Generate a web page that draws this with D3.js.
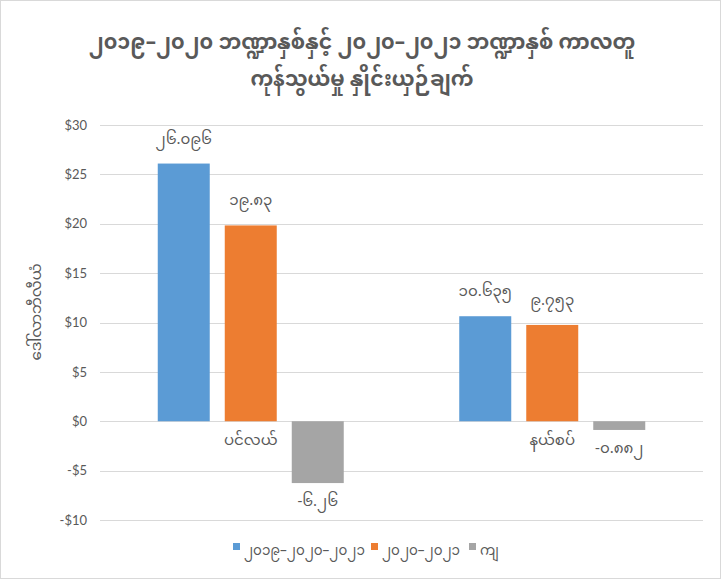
<!DOCTYPE html>
<html>
<head>
<meta charset="utf-8">
<script src="https://cdn.jsdelivr.net/npm/d3@7"></script>
<style>
  body { margin: 0; background: #fff; }
  text { font-family: "Noto Sans Myanmar", "Noto Sans", "DejaVu Sans", sans-serif; fill: #595959; }
</style>
</head>
<body>
<div id="chart"></div>
<script>
// chart values
const categories = ["ပင်လယ်", "နယ်စပ်"];
const seriesNames = ["၂၀၁၉–၂၀၂၀–၂၀၂၁", "၂၀၂၀–၂၀၂၁", "ကျ"];
const seaValues = [26.096, 19.83, -6.26];
const borderValues = [10.635, 9.753, -0.882];
const yTicks = [-10, -5, 0, 5, 10, 15, 20, 25, 30];
const titleLines = ["၂၀၁၉–၂၀၂၀ ဘဏ္ဍာနှစ်နှင့် ၂၀၂၀–၂၀၂၁ ဘဏ္ဍာနှစ် ကာလတူ", "ကုန်သွယ်မှု နှိုင်းယှဉ်ချက်"];
const yTitle = "ဒေါ်လာဘီလီယံ";

const colors = ["#5B9BD5", "#ED7D31", "#A5A5A5"];

const width = 727, height = 583;
const margin = { top: 125, bottom: 63, left: 100, right: 24 };

const myDigits = "၀၁၂၃၄၅၆၇၈၉";
function toMy(v) {
  return String(v).replace(/[0-9]/g, d => myDigits[+d]);
}

const svg = d3.select("#chart").append("svg")
  .attr("width", width)
  .attr("height", height);

// outer border
svg.append("rect")
  .attr("x", 0.5).attr("y", 0.5)
  .attr("width", 720).attr("height", 578)
  .attr("fill", "#fff")
  .attr("stroke", "#D9D9D9");

const rows = [seaValues, borderValues];

const x0 = d3.scaleBand()
  .domain(categories)
  .range([margin.left, width - margin.right]);

const x1 = d3.scaleBand()
  .domain(seriesNames)
  .range([0, 186])
  .paddingInner(0.224);

const y = d3.scaleLinear()
  .domain([-10, 30])
  .range([height - margin.bottom, margin.top]);

// gridlines
svg.append("g")
  .selectAll("line")
  .data(yTicks)
  .enter()
  .append("line")
  .attr("x1", margin.left)
  .attr("x2", 703)
  .attr("y1", d => Math.round(y(d)) + 0.5)
  .attr("y2", d => Math.round(y(d)) + 0.5)
  .attr("stroke", "#D9D9D9")
  .attr("stroke-width", 1);

// y axis labels
const yAxis = d3.axisLeft(y)
  .tickValues(yTicks)
  .tickSize(0)
  .tickPadding(13)
  .tickFormat(d => (d < 0 ? "-$" + Math.abs(d) : "$" + d));

svg.append("g")
  .attr("class", "y-axis")
  .attr("transform", "translate(" + margin.left + ",0)")
  .call(yAxis)
  .call(g => g.select(".domain").remove())
  .selectAll("text")
  .style("font-size", "13px")
  .style("font-family", "Lato, 'Open Sans', sans-serif")
  .attr("fill", "#595959");

// bars
const groups = svg.append("g")
  .selectAll("g")
  .data(categories)
  .enter()
  .append("g")
  .attr("transform", d => "translate(" + (x0(d) + (x0.bandwidth() - 186) / 2) + ",0)");

groups.each(function (cat, ci) {
  const g = d3.select(this);
  const vals = rows[ci];

  g.selectAll("rect")
    .data(vals)
    .enter()
    .append("rect")
    .attr("x", (d, i) => x1(seriesNames[i]))
    .attr("y", d => y(Math.max(0, d)))
    .attr("width", x1.bandwidth())
    .attr("height", d => Math.abs(y(d) - y(0)))
    .attr("fill", (d, i) => colors[i]);

  // value labels
  g.selectAll(".val")
    .data(vals)
    .enter()
    .append("text")
    .attr("class", "val")
    .attr("x", (d, i) => x1(seriesNames[i]) + x1.bandwidth() / 2)
    .attr("y", d => (d >= 0 ? y(d) - 24 : y(d) + 19))
    .attr("text-anchor", "middle")
    .attr("dominant-baseline", "middle")
    .style("font-size", "15px")
    .text(d => toMy(d < 0 ? "-" + Math.abs(d) : d));
});

// category labels under zero line
svg.append("g")
  .selectAll("text")
  .data(categories)
  .enter()
  .append("text")
  .attr("x", d => x0(d) + x0.bandwidth() / 2)
  .attr("y", y(0) + 20)
  .attr("text-anchor", "middle")
  .attr("dominant-baseline", "middle")
  .style("font-size", "15px")
  .text(d => d);

// title
svg.append("g")
  .selectAll("text")
  .data(titleLines)
  .enter()
  .append("text")
  .attr("x", 362)
  .attr("y", (d, i) => 43 + i * 37)
  .attr("text-anchor", "middle")
  .attr("dominant-baseline", "middle")
  .style("font-size", "20.5px")
  .style("font-weight", "bold")
  .text(d => d);

// y axis title
svg.append("text")
  .attr("transform", "translate(37,312) rotate(-90)")
  .attr("text-anchor", "middle")
  .attr("dominant-baseline", "middle")
  .style("font-size", "15px")
  .text(yTitle);

// legend
const legendX = [233, 371, 469];
const legend = svg.append("g")
  .selectAll("g")
  .data(seriesNames)
  .enter()
  .append("g")
  .attr("transform", (d, i) => "translate(" + legendX[i] + ",551)");

legend.append("rect")
  .attr("x", 0)
  .attr("y", -8)
  .attr("width", 7)
  .attr("height", 7)
  .attr("fill", (d, i) => colors[i]);

legend.append("text")
  .attr("x", 11)
  .attr("y", 0)
  .attr("dominant-baseline", "middle")
  .style("font-size", "13.5px")
  .text(d => d);
</script>
</body>
</html>
